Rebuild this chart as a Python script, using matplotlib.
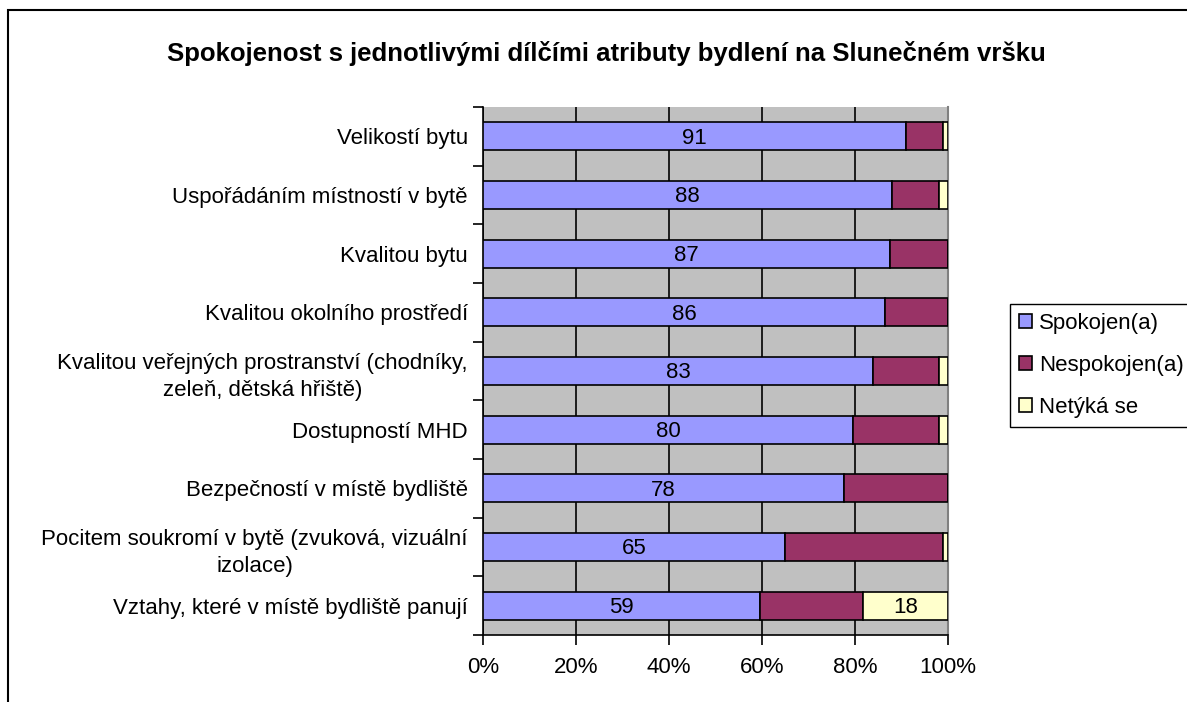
import numpy as np
import matplotlib.pyplot as plt
from matplotlib.patches import Patch, Rectangle

categories = [
    'Velikostí bytu',
    'Uspořádáním místností v bytě',
    'Kvalitou bytu',
    'Kvalitou okolního prostředí',
    'Kvalitou veřejných prostranství (chodníky,\nzeleň, dětská hřiště)',
    'Dostupností MHD',
    'Bezpečností v místě bydliště',
    'Pocitem soukromí v bytě (zvuková, vizuální\nizolace)',
    'Vztahy, které v místě bydliště panují',
]
spokojen = [91, 88, 87, 86, 83, 80, 78, 65, 59]
nespokojen = [8, 10, 12.5, 13.5, 14, 18.5, 22.5, 34, 22]
netyka = [1, 2, 0, 0, 2, 2, 0, 1, 18]
series_names = ['Spokojen(a)', 'Nespokojen(a)', 'Netýká se']
colors = ['#9999FF', '#993366', '#FFFFCC']
x_ticks = [0, 20, 40, 60, 80, 100]

plt.rcParams['font.family'] = ['Liberation Sans', 'DejaVu Sans']

def main():
    fig = plt.figure(figsize=(11.87, 7.02), dpi=100)
    fig.patch.set_facecolor('white')
    fig.patches.append(Rectangle((8 / 1187, -0.05), 1.2, 1 - 10 / 702 + 0.05,
                                 transform=fig.transFigure, fill=False,
                                 edgecolor='black', linewidth=1.5))

    ax = fig.add_axes([483 / 1187, 1 - 635 / 702, 465 / 1187, 528 / 702])
    ax.set_facecolor('#C0C0C0')

    data = np.array([spokojen, nespokojen, netyka], dtype=float)
    shares = data / data.sum(axis=0) * 100
    y = np.arange(len(categories))
    left = np.zeros(len(categories))
    for i in range(3):
        ax.barh(y, shares[i], left=left, height=0.48, color=colors[i],
                edgecolor='black', linewidth=1.2, zorder=3)
        for j in range(len(categories)):
            if (i == 0) or (i == 2 and data[i][j] >= 10):
                ax.text(left[j] + shares[i][j] / 2, y[j] + 0.03, '%d' % data[i][j],
                        ha='center', va='center', fontsize=16, zorder=4)
        left += shares[i]

    ax.set_xlim(0, 100)
    ax.set_ylim(len(categories) - 0.5, -0.5)
    ax.set_xticks(x_ticks)
    ax.set_xticklabels(['%d%%' % t for t in x_ticks], fontsize=16)
    ax.xaxis.grid(True, color='black', linewidth=1.2, zorder=1)
    ax.set_axisbelow(True)
    ax.tick_params(axis='x', length=7, width=1.2, direction='out', pad=9)

    ax.set_yticks(y)
    ax.set_yticklabels(categories, fontsize=16, multialignment='center',
                       linespacing=1.4)
    ax.set_yticks(np.arange(len(categories) + 1) - 0.5, minor=True)
    ax.tick_params(axis='y', which='major', length=0, pad=11)
    ax.tick_params(axis='y', which='minor', length=7, width=1.2, direction='out')

    ax.spines['top'].set_visible(False)
    ax.spines['right'].set_color('#808080')
    ax.spines['right'].set_linewidth(1.5)
    ax.spines['left'].set_linewidth(1.2)
    ax.spines['bottom'].set_linewidth(1.2)

    fig.text(606 / 1187, 1 - 53 / 702,
             'Spokojenost s jednotlivými dílčími atributy bydlení na Slunečném vršku',
             ha='center', va='center', fontsize=18.5, fontweight='bold')

    handles = [Patch(facecolor=c, edgecolor='black', linewidth=1.2) for c in colors]
    fig.legend(handles, series_names, loc='upper left',
               bbox_to_anchor=(1010 / 1187, 1 - 304 / 702), fontsize=16,
               frameon=True, fancybox=False, edgecolor='black', framealpha=1,
               handlelength=0.6, handleheight=0.6, handletextpad=0.3,
               labelspacing=0.95, borderpad=0.4, borderaxespad=0)

    fig.savefig('out.png', dpi=100)

if __name__ == '__main__':
    main()
